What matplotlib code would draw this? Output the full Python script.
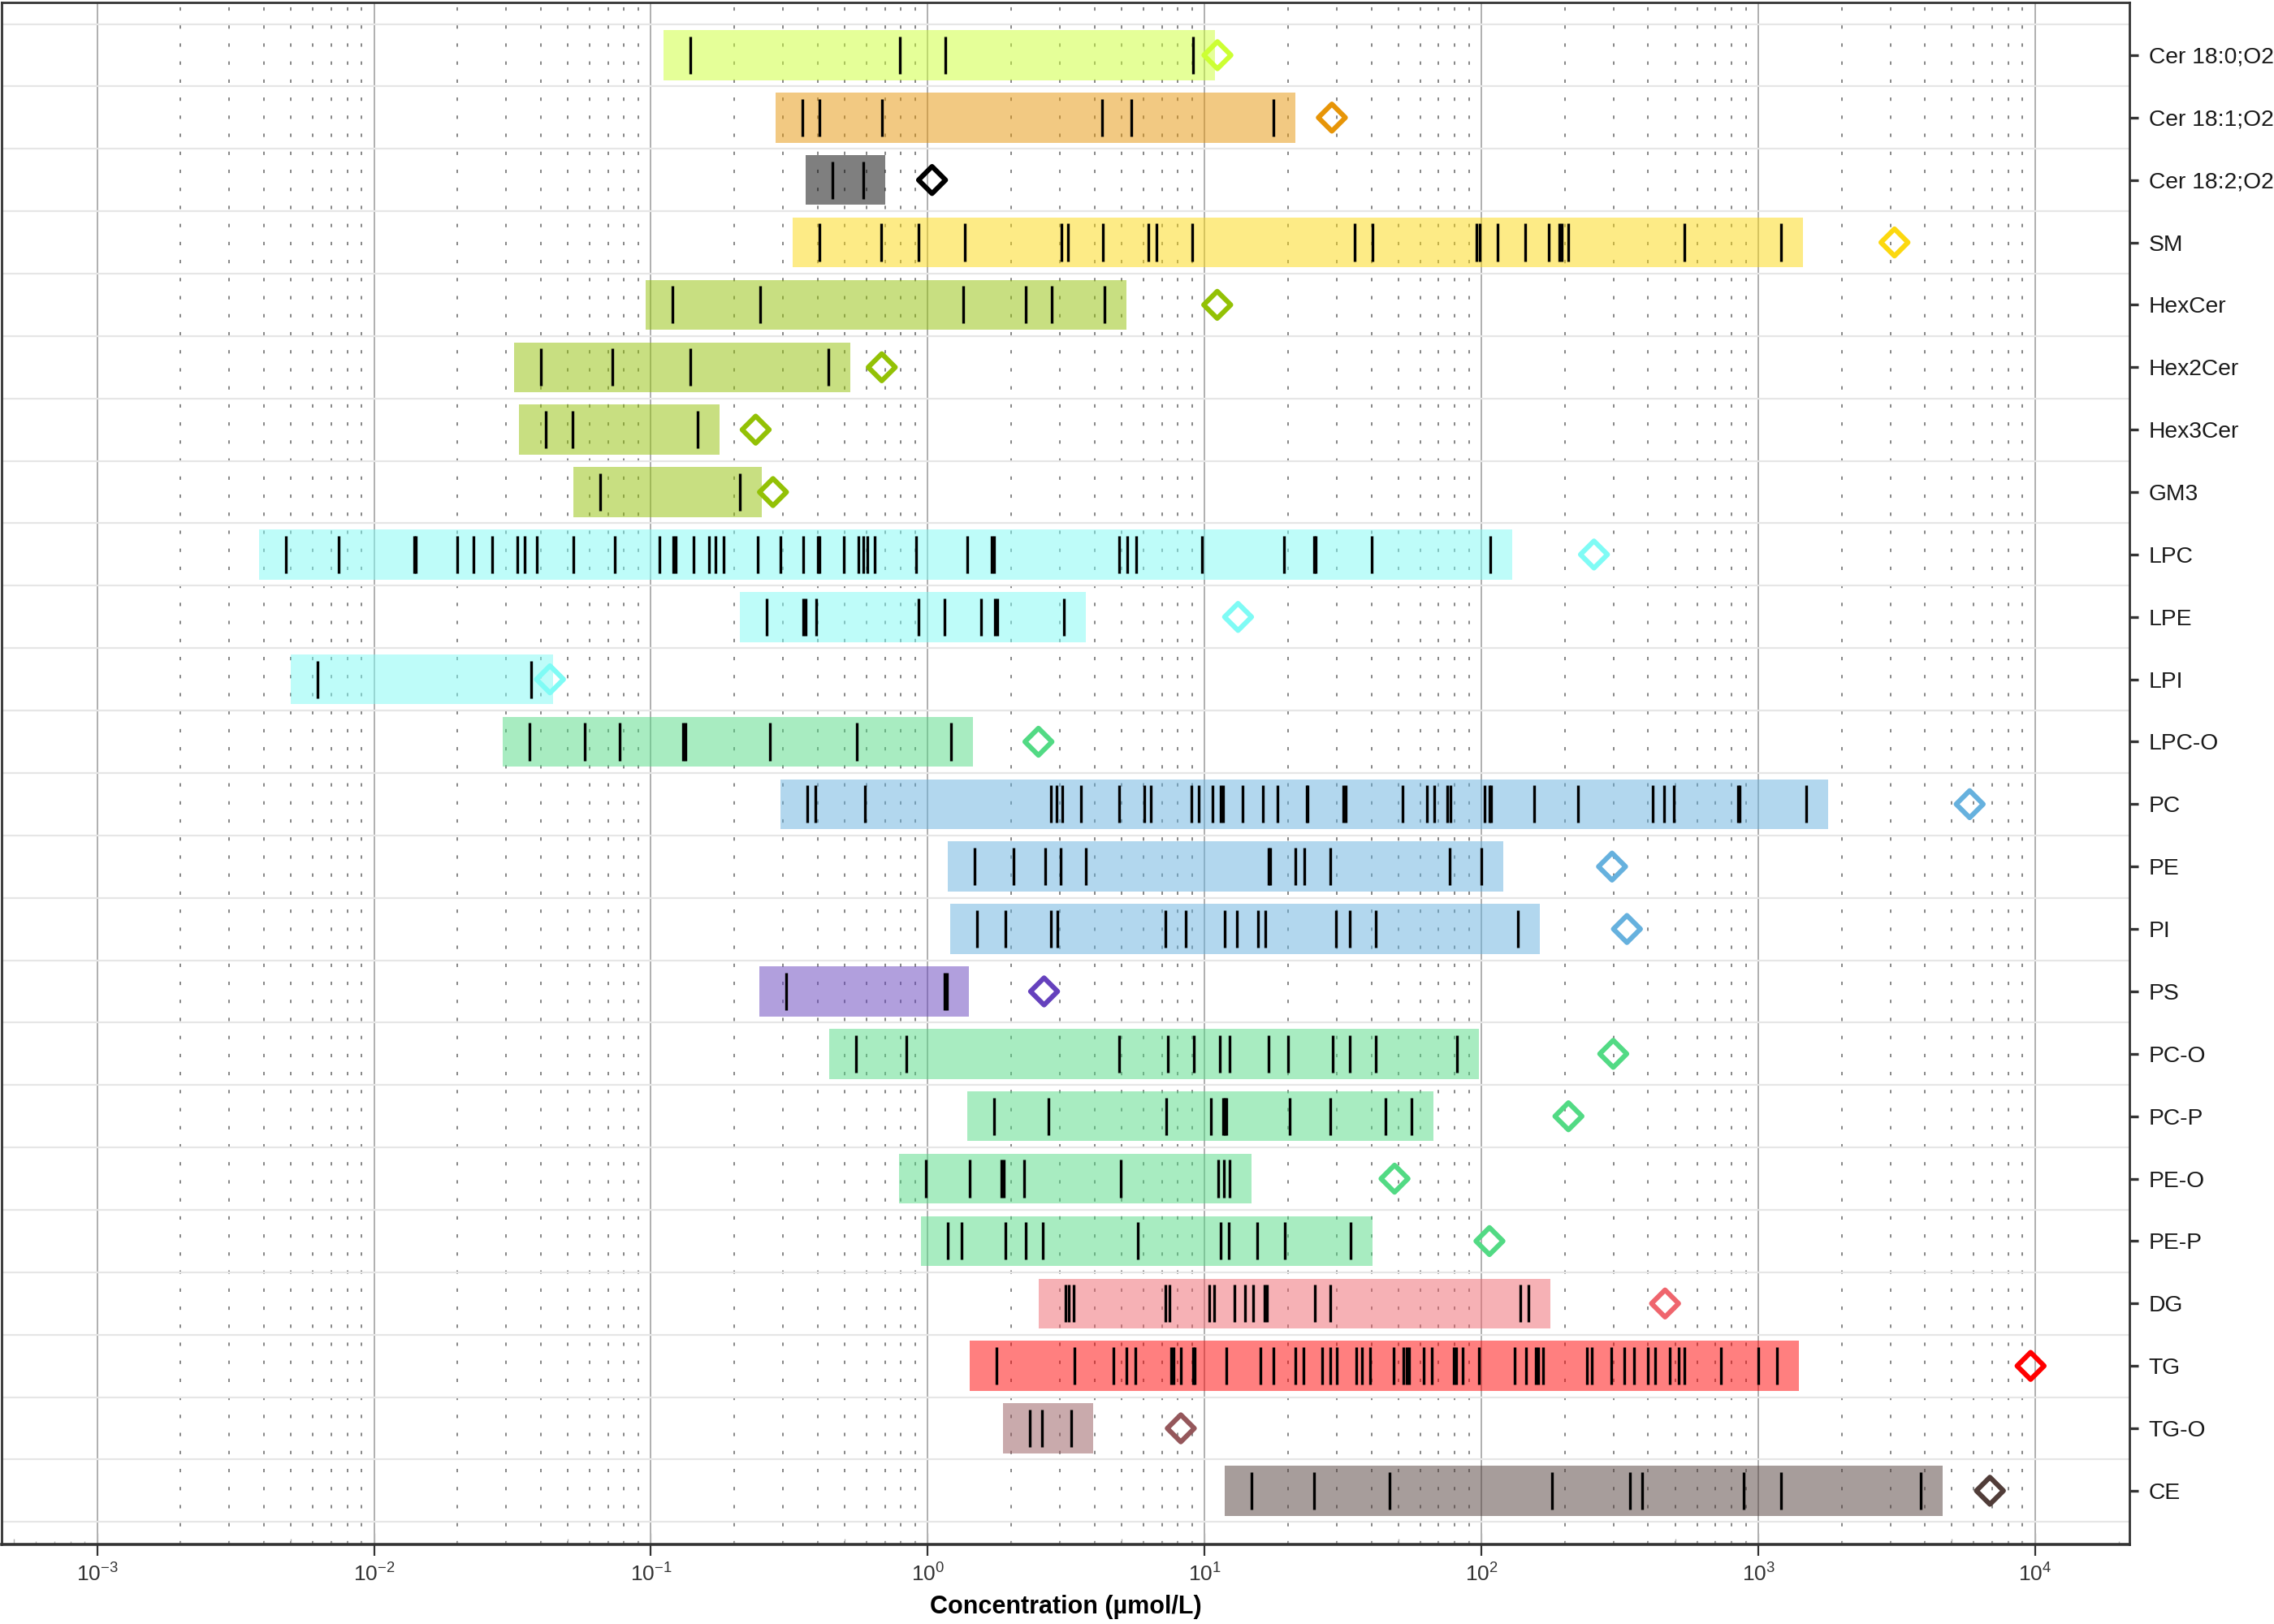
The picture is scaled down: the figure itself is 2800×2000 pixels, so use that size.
import matplotlib
matplotlib.use('Agg')
import matplotlib.pyplot as plt

plt.rcParams['font.family'] = ['Liberation Sans', 'DejaVu Sans']
plt.rcParams['lines.scale_dashes'] = False

# lipid classes, top to bottom
classes = ['Cer 18:0;O2', 'Cer 18:1;O2', 'Cer 18:2;O2', 'SM', 'HexCer', 'Hex2Cer',
           'Hex3Cer', 'GM3', 'LPC', 'LPE', 'LPI', 'LPC-O', 'PC', 'PE', 'PI', 'PS',
           'PC-O', 'PC-P', 'PE-O', 'PE-P', 'DG', 'TG', 'TG-O', 'CE']

# single species concentrations per class (umol/L)
cer_18_0 = [0.139, 0.791, 1.157, 9.05]
cer_18_1 = [0.353, 0.405, 0.683, 4.25, 5.45, 17.7]
cer_18_2 = [0.454, 0.586]
sm = [0.405, 0.679, 0.923, 1.365, 3.05, 3.21, 4.28, 6.27, 6.69, 9.02, 34.8, 40.5,
      96.0, 98.5, 114.6, 143.6, 175.2, 191.5, 195.0, 205.8, 541, 1205]
hexcer = [0.120, 0.248, 1.345, 2.26, 2.80, 4.35]
hex2cer = [0.0401, 0.0724, 0.1388, 0.4365]
hex3cer = [0.0416, 0.0522, 0.1475]
gm3 = [0.0657, 0.2093]
lpc = [0.0048, 0.00745, 0.0140, 0.0142, 0.0200, 0.0229, 0.0267, 0.0330, 0.0350,
       0.0387, 0.0524, 0.0739, 0.1072, 0.1205, 0.1225, 0.1429, 0.1623, 0.1714,
       0.1836, 0.2428, 0.2944, 0.3548, 0.400, 0.407, 0.499, 0.561, 0.583, 0.604,
       0.642, 0.906, 1.389, 1.70, 1.74, 4.90, 5.27, 5.65, 9.80, 19.4, 24.8, 25.2,
       40.0, 107.2]
lpe = [0.262, 0.356, 0.362, 0.396, 0.925, 1.149, 1.562, 1.743, 1.780, 3.10]
lpi = [0.00625, 0.0369]
lpc_o = [0.0364, 0.0575, 0.0769, 0.1310, 0.1335, 0.2696, 0.556, 1.217]
pc = [0.367, 0.393, 0.593, 2.78, 2.92, 3.07, 3.58, 4.92, 6.04, 6.40, 8.97, 9.52,
      10.71, 11.45, 11.65, 13.75, 16.24, 18.27, 23.3, 23.6, 31.7, 32.4, 51.8, 63.4,
      67.4, 75.4, 77.4, 102.8, 106.5, 108.0, 154.9, 223.1, 414, 455, 495, 845, 858,
      1491]
pe = [1.472, 2.034, 2.66, 3.01, 3.71, 17.0, 17.3, 21.3, 22.9, 28.35, 76.9, 99.7]
pi = [1.504, 1.909, 2.783, 2.947, 7.22, 8.57, 11.83, 13.11, 15.56, 16.53, 29.77,
      33.4, 41.6, 135.3]
ps = [0.308, 1.15, 1.17]
pc_o = [0.550, 0.836, 4.91, 7.36, 9.12, 11.32, 12.28, 16.97, 20.07, 29.07, 33.5,
        41.56, 81.4]
pc_p = [1.738, 2.72, 7.26, 10.56, 11.65, 11.82, 12.0, 20.32, 28.34, 44.9, 55.7]
pe_o = [0.984, 1.419, 1.845, 1.886, 2.231, 4.97, 11.22, 11.71, 12.28]
pe_p = [1.179, 1.324, 1.91, 2.26, 2.604, 5.73, 11.46, 12.23, 15.49, 19.48, 33.65]
dg = [3.14, 3.22, 3.36, 7.20, 7.45, 10.39, 10.83, 12.85, 13.95, 14.93, 16.4, 16.8,
      25.0, 28.5, 138.3, 147.5]
tg = [1.769, 3.384, 4.69, 5.225, 5.617, 7.54, 7.70, 8.22, 9.05, 9.2, 11.98, 15.93,
      17.67, 21.2, 22.8, 26.6, 28.4, 30.0, 35.4, 37.1, 39.6, 48.1, 52.3, 53.6, 54.8,
      61.9, 66.1, 79.2, 81.2, 85.2, 97.9, 131.5, 145.1, 156.8, 160.6, 166.5, 240.3,
      249.7, 294.9, 327.2, 354.3, 397.7, 422.7, 478.7, 514.9, 539.0, 732.5, 1002,
      1164]
tg_o = [2.33, 2.578, 3.297]
ce = [14.78, 24.8, 46.5, 179.4, 344.2, 379.1, 882.5, 1208, 3846]

species = [cer_18_0, cer_18_1, cer_18_2, sm, hexcer, hex2cer, hex3cer, gm3, lpc, lpe,
           lpi, lpc_o, pc, pe, pi, ps, pc_o, pc_p, pe_o, pe_p, dg, tg, tg_o, ce]

# class sums (diamonds)
totals = [11.12, 28.8, 1.036, 3100, 11.1, 0.682, 0.239, 0.276, 254.7, 13.2, 0.0432,
          2.51, 5794, 296, 335, 2.63, 299, 206, 48.5, 106.8, 460, 9616, 8.2, 6855]

class_colors = ['#ccff33', '#e79507', '#000000', '#fcd80f', '#93c105', '#93c105',
                '#93c105', '#93c105', '#7ffbf5', '#7ffbf5', '#7ffbf5', '#52da84',
                '#66b1de', '#66b1de', '#66b1de', '#6541bd', '#52da84', '#52da84',
                '#52da84', '#52da84', '#ef656d', '#ff0000', '#95575b', '#513d39']

fig = plt.figure(figsize=(14, 10), dpi=200)
ax = fig.add_axes([2 / 2800, 98 / 2000, 2620 / 2800, 1899 / 2000])
ax.set_xscale('log')
ax.set_xlim(10 ** -3.345, 10 ** 4.34)
ax.set_ylim(len(classes) - 1 + 0.86, -0.845)

# grid
for e in range(-3, 5):
    ax.axvline(10.0 ** e, color='#9a9a9a', lw=0.55, zorder=0)
for e in range(-3, 4):
    for m in range(2, 10):
        ax.axvline(m * 10.0 ** e, color='#666666', lw=0.55, ls=(0, (1.5, 6.5)), zorder=0)
for i in range(len(classes) + 1):
    ax.axhline(i - 0.5, color='#e6e6e6', lw=0.8, zorder=0)

# log ticks along the bottom
trans = ax.get_xaxis_transform()
for e in range(-4, 5):
    for m in range(1, 10):
        x = m * 10.0 ** e
        if m == 1:
            h = 0.0074
        elif m == 5:
            h = 0.0038
        else:
            h = 0.0022
        ax.vlines(x, 0, h, transform=trans, color='#b3b3b3', lw=0.5, zorder=0)

for i, (vals, col) in enumerate(zip(species, class_colors)):
    lo = min(vals) * 0.8
    hi = max(vals) * 1.2
    ax.barh(i, hi - lo, left=lo, height=0.8, color=col, alpha=0.5, lw=0, zorder=1)
    ax.vlines(vals, i - 0.3, i + 0.3, color='black', lw=1.2, zorder=2)

ax.scatter(totals, range(len(classes)), marker='D', s=72, facecolors='none',
           edgecolors=class_colors, linewidths=2.2, zorder=3)

ax.set_xticks([10.0 ** e for e in range(-3, 5)])
ax.xaxis.set_minor_locator(matplotlib.ticker.NullLocator())
ax.tick_params(axis='x', direction='out', length=5, width=0.8, color='#333333',
               labelcolor='#333333', labelsize=9.5, pad=3.5)
ax.yaxis.tick_right()
ax.set_yticks(range(len(classes)))
ax.set_yticklabels(classes)
ax.tick_params(axis='y', direction='out', length=4, width=1.2, color='#333333',
               labelcolor='#1a1a1a', labelsize=10.2, pad=4.5)
for s in ax.spines.values():
    s.set_color('#333333')
    s.set_linewidth(1.0)
ax.spines['bottom'].set_linewidth(1.3)

ax.set_xlabel('Concentration (µmol/L)', fontsize=11, fontweight='bold', labelpad=4)

fig.savefig('out.png', dpi=200)
